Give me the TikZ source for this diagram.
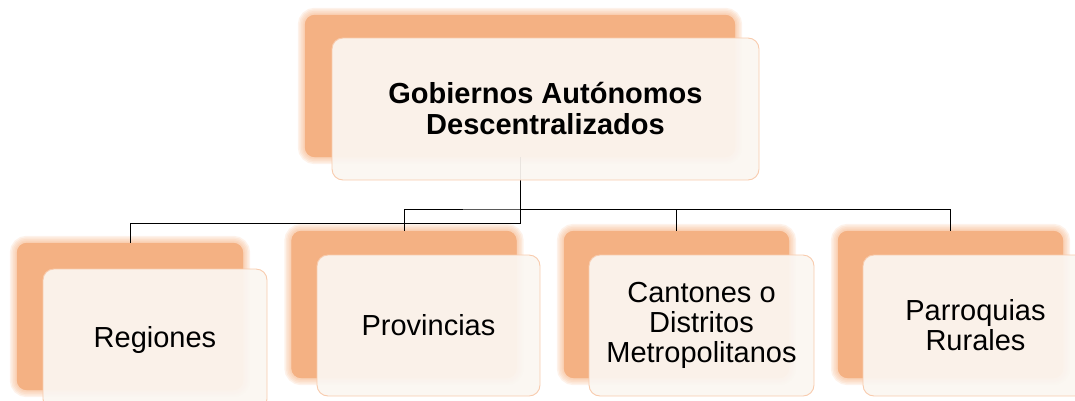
\documentclass[tikz,border=0pt]{standalone}
\usepackage{fontspec}
\setmainfont{Liberation Sans}
\definecolor{backor}{HTML}{F4B183}
\definecolor{glowor}{HTML}{F7BE96}
\definecolor{frontfill}{HTML}{FBF6F1}
\definecolor{frontline}{HTML}{F8CBAD}
\tikzset{
  backbox/.style={draw=none, fill=backor, rounded corners=10pt, inner sep=0pt},
  frontbox/.style={draw=frontline, line width=0.9pt, fill=frontfill, fill opacity=0.93, text opacity=1, rounded corners=11pt, inner sep=0pt, align=center, font=\fontsize{29}{30}\selectfont},
  glowline/.style={draw=glowor, rounded corners=10pt, opacity=0.2},
  conn/.style={draw=black, line width=0.9pt}
}
\newcommand{\glowbox}[1]{%
  \foreach \w in {14,11,8,5,3}{%
    \draw[glowline, line width=\w pt] (#1.north west) rectangle (#1.south east);
  }%
}
\begin{document}
\begin{tikzpicture}[x=1pt,y=-1pt]
\useasboundingbox (0,0) rectangle (1075,400);
\clip (0,0) rectangle (1075,400);
% back boxes
\node[backbox, minimum width=430pt, minimum height=142pt] (tb) at (520,86) {};
\node[backbox, minimum width=226pt, minimum height=147pt] (rb) at (130,316.5) {};
\node[backbox, minimum width=225pt, minimum height=147pt] (pb) at (404,304.5) {};
\node[backbox, minimum width=225pt, minimum height=147pt] (cb) at (676.5,304.5) {};
\node[backbox, minimum width=225pt, minimum height=147pt] (qb) at (950.5,304.5) {};
\glowbox{tb}\glowbox{rb}\glowbox{pb}\glowbox{cb}\glowbox{qb}
\foreach \n in {tb,rb,pb,cb,qb}{\fill[backor, rounded corners=10pt] (\n.north west) rectangle (\n.south east);}
% connectors
\coordinate (j1) at (520,223);
\coordinate (h) at (520,209);
\draw[conn] (tb.south) -- (j1) -| (rb.north);
\draw[conn] (pb.north) |- (h) -| (cb.north);
\draw[conn] (h) -| (qb.north);
% front boxes
\node[frontbox, minimum width=427pt, minimum height=142pt, font=\bfseries\fontsize{29}{31}\selectfont] (tf) at (545.5,109) {Gobiernos Autónomos\\Descentralizados};
\node[frontbox, minimum width=224pt, minimum height=141pt] (rf) at (155,339.5) {Regiones};
\node[frontbox, minimum width=223pt, minimum height=141pt] (pf) at (428.5,325.5) {Provincias};
\node[frontbox, minimum width=225pt, minimum height=141pt] (cf) at (701.5,325.5) {Cantones o\\Distritos\\Metropolitanos};
\node[frontbox, minimum width=225pt, minimum height=141pt] (qf) at (975.5,325.5) {Parroquias\\Rurales};
\end{tikzpicture}
\end{document}
